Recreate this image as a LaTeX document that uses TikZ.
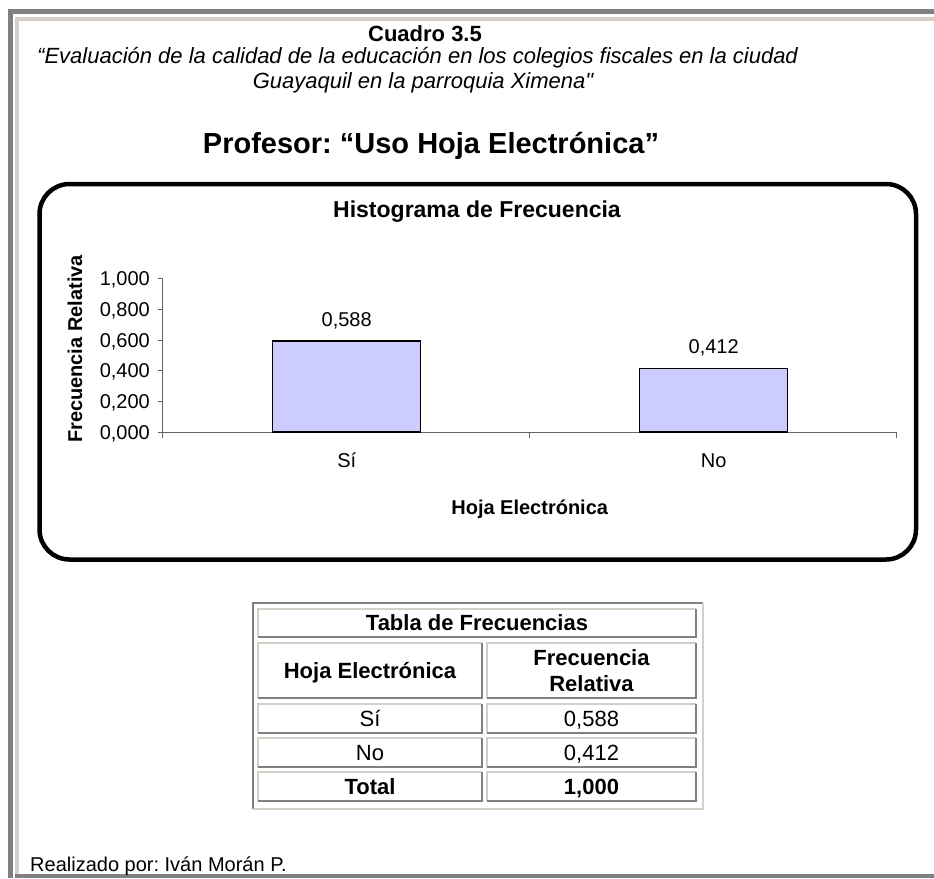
\documentclass[tikz,border=0pt]{standalone}
\usepackage{fontspec}
\setmainfont{Liberation Sans}[Ligatures=TeXOff]
\usetikzlibrary{positioning}
\definecolor{frmdark}{HTML}{808080}
\definecolor{frmlite}{HTML}{D4D0C8}
\definecolor{barfill}{HTML}{CCCCFF}
\newcommand{\pxfont}[1]{\fontsize{#1}{1.15\dimexpr #1pt\relax}\selectfont}
\frenchspacing

\begin{document}
\begin{tikzpicture}[x=1pt,y=-1pt,
  txt/.style={inner sep=0pt,anchor=base},
  lbl/.style={inner sep=0pt,font=\pxfont{20}},
  bar/.style={draw=black,line width=1.5pt,fill=barfill,minimum width=148pt,
    inner sep=0pt,anchor=south},
  axis/.style={draw=black!60,line width=1pt},
  cell/.style={inner sep=0pt,outer sep=0pt,anchor=north west,align=center},
  one/.style={text height=15.8pt,text depth=0pt}]
\useasboundingbox (0,0) rectangle (934,878);
\fill[white] (0,0) rectangle (934,878);
% page frame
\fill[frmdark] (8,9) rectangle (934,14);
\fill[frmdark] (8,9) rectangle (13,878);
\fill[frmlite] (15,17) rectangle (934,21);
\fill[frmlite] (15,17) rectangle (19,874);
\fill[frmdark] (15,874) rectangle (934,878);

% heading
\node[txt,font=\bfseries\pxfont{22}] (cuadro) at (425,41) {Cuadro 3.5};
\node[txt,anchor=base west,font=\itshape\pxfont{22}] (eval) at (37,63)
  {“Evaluación de la calidad de la educación en los colegios fiscales en la ciudad};
\node[txt,font=\itshape\pxfont{22}] (ciudad) at (423,88) {Guayaquil en la parroquia Ximena"};
\node[txt,font=\bfseries\pxfont{29}] (prof) at (431,153) {Profesor: “Uso Hoja Electrónica”};

% chart
\draw[line width=4.5pt,rounded corners=30pt] (39.5,184) rectangle (916,559.5);
\node[txt,font=\bfseries\pxfont{23}] (htitle) at (477,217) {Histograma de Frecuencia};
\coordinate (o) at (162.7,432.7);
\coordinate (ytop) at (162.7,278.3);
\coordinate (xend) at (896.7,432.7);
\coordinate (xmid) at (529.7,432.7);
\draw[axis] (ytop) -- (o) -- (xend);
\draw[axis] (o) -- ++(-5,0) (o) -- ++(0,5);
\draw[axis] (xmid) -- ++(0,5) (xend) -- ++(0,5);
\draw[axis] (162.7,401.8) -- ++(-5,0) (162.7,370.9) -- ++(-5,0)
  (162.7,340.1) -- ++(-5,0) (162.7,309.2) -- ++(-5,0) (ytop) -- ++(-5,0);
\node[txt,anchor=base east,font=\pxfont{20}] (y0) at (150,439.7) {0,000};
\node[txt,anchor=base east,font=\pxfont{20}] (y2) at (150,408.8) {0,200};
\node[txt,anchor=base east,font=\pxfont{20}] (y4) at (150,377.9) {0,400};
\node[txt,anchor=base east,font=\pxfont{20}] (y6) at (150,347.1) {0,600};
\node[txt,anchor=base east,font=\pxfont{20}] (y8) at (150,316.2) {0,800};
\node[txt,anchor=base east,font=\pxfont{20}] (y10) at (150,285.3) {1,000};

\node[bar,minimum height=90.8pt] (si) at (346.7,432.7) {};
\node[bar,minimum height=63.7pt] (no) at (713.7,432.7) {};
\node[lbl,above=11pt of si] (vsi) {0,588};
\node[lbl,above=11pt of no] (vno) {0,412};
\node[txt,font=\pxfont{20}] (csi) at (346.7,467) {Sí};
\node[txt,font=\pxfont{20}] (cno) at (713.7,467) {No};
\node[txt,font=\bfseries\pxfont{20}] (xtitle) at (529.7,514) {Hoja Electrónica};
\node[txt,font=\bfseries\pxfont{20},rotate=90] (ytitle) at (82,349) {Frecuencia Relativa};

% table
\draw[frmdark,line width=2.5pt] (253,809) |- (703,603);
\draw[frmlite,line width=2.5pt] (253,809) -| (703,603);
\node[cell,one,minimum width=438pt,minimum height=28pt,font=\bfseries\pxfont{22}] (tab)
  at (258,609) {Tabla de Frecuencias};
\node[cell,one,minimum width=224pt,minimum height=55pt,font=\bfseries\pxfont{22}] (h1)
  at (258,643) {Hoja Electrónica};
\node[cell,minimum width=209pt,minimum height=55pt,font=\bfseries\pxfont{22}] (h2)
  at (487,643) {Frecuencia\\Relativa};
\node[cell,one,minimum width=224pt,minimum height=29pt,font=\pxfont{22}] (a1) at (258,704) {Sí};
\node[cell,one,minimum width=209pt,minimum height=29pt,font=\pxfont{22}] (a2) at (487,704) {0,588};
\node[cell,one,minimum width=224pt,minimum height=29pt,font=\pxfont{22}] (b1) at (258,738) {No};
\node[cell,one,minimum width=209pt,minimum height=29pt,font=\pxfont{22}] (b2) at (487,738) {0,412};
\node[cell,one,minimum width=224pt,minimum height=29pt,font=\bfseries\pxfont{22}] (s1) at (258,772) {Total};
\node[cell,one,minimum width=209pt,minimum height=29pt,font=\bfseries\pxfont{22}] (s2) at (487,772) {1,000};
\foreach \c in {tab,h1,h2,a1,a2,b1,b2,s1,s2}{
  \draw[frmlite,line width=1.5pt] (\c.south west) |- (\c.north east);
  \draw[frmdark,line width=1.5pt] (\c.south west) -| (\c.north east);
}

\node[txt,anchor=base west,font=\pxfont{20}] (autor) at (30,871) {Realizado por: Iván Morán P.};
\end{tikzpicture}
\end{document}
